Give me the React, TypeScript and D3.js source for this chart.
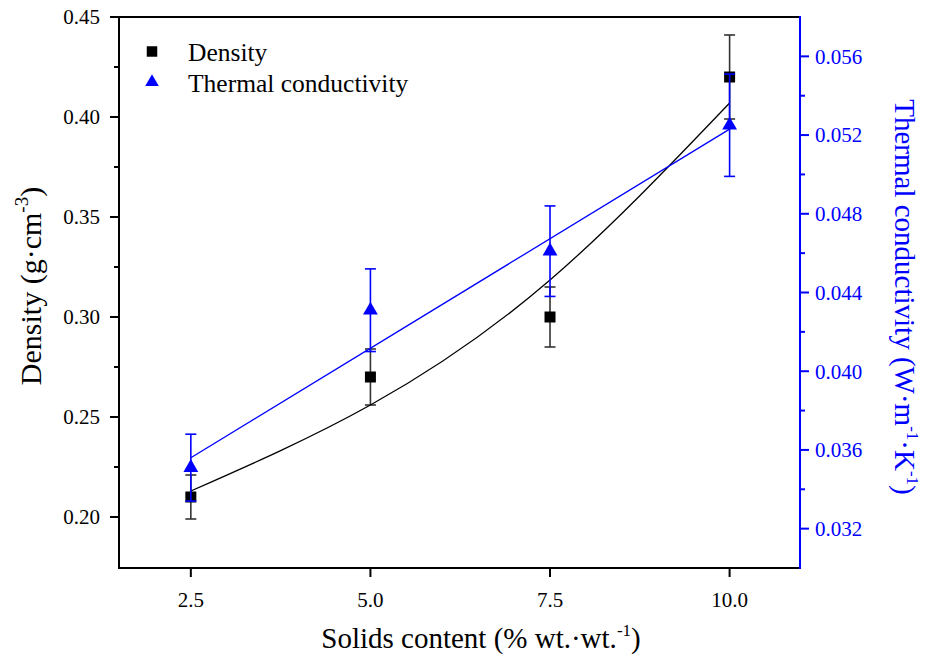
import React from 'react';
import * as d3 from 'd3';

// measured points
const solids = [2.5, 5.0, 7.5, 10.0];
const density = [0.21, 0.27, 0.30, 0.42];
const densityErr = [0.011, 0.014, 0.015, 0.021];
const conductivity = [0.0351, 0.0431, 0.0461, 0.0525];
const conductivityErr = [0.0017, 0.0021, 0.0023, 0.0026];

// fitted curves
const densityFitX = [2.5, 5.0, 7.5, 10.0];
const densityFit = [0.213, 0.256, 0.3185, 0.407];
const conductivityFitX = [2.5, 10.0];
const conductivityFit = [0.0356, 0.0523];

// axis ticks
const xTicks = [2.5, 5.0, 7.5, 10.0];
const densityTicks = [0.2, 0.25, 0.3, 0.35, 0.4, 0.45];
const densityMinor = [0.225, 0.275, 0.325, 0.375, 0.425];
const condTicks = [0.032, 0.036, 0.04, 0.044, 0.048, 0.052, 0.056];
const condMinor = [0.034, 0.038, 0.042, 0.046, 0.05, 0.054];

const BLUE = '#0000ff';
const FONT = "'Liberation Serif', 'Times New Roman', Times, 'DejaVu Serif', serif";

const left = 119;
const right = 800;
const top = 17;
const bottom = 568;

export default function App() {
  const x = d3.scaleLinear().domain([1.5, 10.98]).range([left, right]);
  const yL = d3.scaleLinear().domain([0.1745, 0.45]).range([bottom, top]);
  const yR = d3.scaleLinear().domain([0.03, 0.058]).range([bottom, top]);

  const densityLine = d3
    .line<number>()
    .x((_, i) => x(densityFitX[i]))
    .y((d) => yL(d))
    .curve(d3.curveNatural);
  const condLine = d3
    .line<number>()
    .x((_, i) => x(conductivityFitX[i]))
    .y((d) => yR(d));

  const square = d3.symbol().type(d3.symbolSquare).size(121)();
  const triangle = d3.symbol().type(d3.symbolTriangle).size(95)();
  const legSquare = d3.symbol().type(d3.symbolSquare).size(110)();
  const legTriangle = d3.symbol().type(d3.symbolTriangle).size(80)();

  const cap = 5.5;

  return (
    <svg
      width={930}
      height={659}
      style={{ position: 'absolute', left: 0, top: 0, background: '#fff', fontFamily: FONT }}
    >
      {/* density error bars + markers */}
      <g stroke="#333" strokeWidth={1.6}>
        {solids.map((s, i) => {
          const cx = x(s);
          const y1 = yL(density[i] + densityErr[i]);
          const y2 = yL(density[i] - densityErr[i]);
          return (
            <g key={i}>
              <line x1={cx} x2={cx} y1={y1} y2={y2} />
              <line x1={cx - cap} x2={cx + cap} y1={y1} y2={y1} />
              <line x1={cx - cap} x2={cx + cap} y1={y2} y2={y2} />
            </g>
          );
        })}
      </g>
      {solids.map((s, i) => (
        <path key={i} d={square!} transform={`translate(${x(s)},${yL(density[i])})`} fill="#000" />
      ))}

      <path d={densityLine(densityFit)!} fill="none" stroke="#000" strokeWidth={1.3} />
      <path d={condLine(conductivityFit)!} fill="none" stroke={BLUE} strokeWidth={1.3} />

      {/* conductivity error bars + markers */}
      <g stroke={BLUE} strokeWidth={1.6}>
        {solids.map((s, i) => {
          const cx = x(s);
          const y1 = yR(conductivity[i] + conductivityErr[i]);
          const y2 = yR(conductivity[i] - conductivityErr[i]);
          return (
            <g key={i}>
              <line x1={cx} x2={cx} y1={y1} y2={y2} />
              <line x1={cx - cap} x2={cx + cap} y1={y1} y2={y1} />
              <line x1={cx - cap} x2={cx + cap} y1={y2} y2={y2} />
            </g>
          );
        })}
      </g>
      {solids.map((s, i) => (
        <path key={i} d={triangle!} transform={`translate(${x(s)},${yR(conductivity[i])})`} fill={BLUE} />
      ))}

      {/* frame */}
      <line x1={left} x2={right} y1={top} y2={top} stroke="#000" strokeWidth={2} />
      <line x1={left - 1} x2={right} y1={bottom} y2={bottom} stroke="#000" strokeWidth={2} />
      <line x1={left} x2={left} y1={top - 1} y2={bottom + 1} stroke="#000" strokeWidth={2} />
      <line x1={right} x2={right} y1={top - 1} y2={bottom + 1} stroke={BLUE} strokeWidth={2} />

      {/* bottom axis */}
      {xTicks.map((t) => (
        <g key={t}>
          <line x1={x(t)} x2={x(t)} y1={bottom} y2={bottom + 9} stroke="#000" strokeWidth={2} />
          <text x={x(t)} y={607} textAnchor="middle" fontSize={21}>
            {t.toFixed(1)}
          </text>
        </g>
      ))}

      {/* left axis */}
      {densityTicks.map((t) => (
        <g key={t}>
          <line x1={left - 9} x2={left} y1={yL(t)} y2={yL(t)} stroke="#000" strokeWidth={2} />
          <text x={100} y={yL(t)} dy="0.35em" textAnchor="end" fontSize={21}>
            {t.toFixed(2)}
          </text>
        </g>
      ))}
      {densityMinor.map((t) => (
        <line key={t} x1={left - 5} x2={left} y1={yL(t)} y2={yL(t)} stroke="#000" strokeWidth={2} />
      ))}

      {/* right axis */}
      {condTicks.map((t) => (
        <g key={t}>
          <line x1={right} x2={right + 9} y1={yR(t)} y2={yR(t)} stroke={BLUE} strokeWidth={2} />
          <text x={815} y={yR(t)} dy="0.35em" textAnchor="start" fontSize={21} fill={BLUE}>
            {t.toFixed(3)}
          </text>
        </g>
      ))}
      {condMinor.map((t) => (
        <line key={t} x1={right} x2={right + 5} y1={yR(t)} y2={yR(t)} stroke={BLUE} strokeWidth={2} />
      ))}

      {/* axis titles */}
      <text x={481} y={648} textAnchor="middle" fontSize={29}>
        Solids content (% wt.·wt.
        <tspan fontSize={17} dy={-12}>-1</tspan>
        <tspan dy={12}>)</tspan>
      </text>
      <text transform="translate(41,286) rotate(-90)" textAnchor="middle" fontSize={30}>
        Density (g·cm
        <tspan fontSize={19} dy={-13}>-3</tspan>
        <tspan dy={13}>)</tspan>
      </text>
      <text transform="translate(895,297) rotate(90)" textAnchor="middle" fontSize={29} fill={BLUE}>
        Thermal conductivity (W·m
        <tspan fontSize={17} dy={-12}>-1</tspan>
        <tspan dy={12}>·K</tspan>
        <tspan fontSize={17} dy={-12}>-1</tspan>
        <tspan dy={12}>)</tspan>
      </text>

      {/* legend */}
      <path d={legSquare!} transform="translate(152,51.5)" fill="#000" />
      <text x={188} y={60.5} fontSize={25.5}>
        Density
      </text>
      <path d={legTriangle!} transform="translate(152,82)" fill={BLUE} />
      <text x={188} y={91.5} fontSize={25.5}>
        Thermal conductivity
      </text>
    </svg>
  );
}
